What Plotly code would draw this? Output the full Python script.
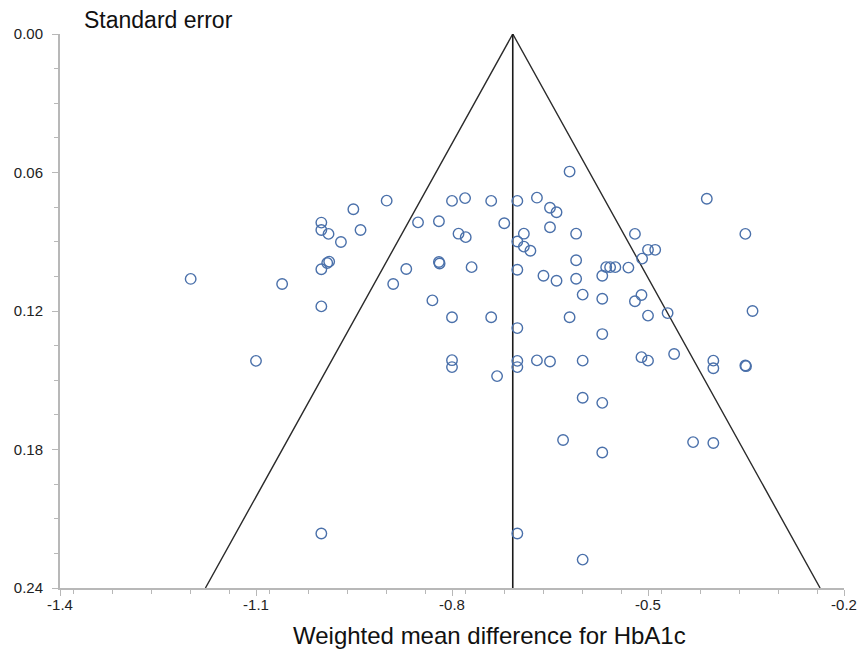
import plotly.graph_objects as go

# Study effect sizes (weighted mean difference for HbA1c) and standard errors
wmd = [
    -1.200, -1.060, -1.100, -1.000, -1.000, -0.989, -0.970, -0.951, -0.900, -0.940,
    -0.991, -0.988, -1.000, -1.000, -0.870, -0.890, -0.852, -0.620, -0.800, -0.780,
    -0.740, -0.700, -0.670, -0.650, -0.640, -0.820, -0.790, -0.779, -0.720, -0.650,
    -0.690, -0.610, -0.520, -0.700, -0.690, -0.680, -0.500, -0.489, -0.509, -0.820,
    -0.819, -0.770, -0.700, -0.610, -0.660, -0.640, -0.610, -0.570, -0.564, -0.558,
    -0.550, -0.530, -0.600, -0.570, -0.510, -0.520, -0.830, -0.800, -0.740, -0.700,
    -0.620, -0.570, -0.500, -0.470, -0.340, -0.410, -0.351, -0.800, -0.800, -0.700,
    -0.700, -0.670, -0.650, -0.600, -0.510, -0.500, -0.460, -0.400, -0.400, -0.351,
    -0.350, -0.731, -0.600, -0.570, -0.630, -0.570, -0.431, -0.400, -1.000, -0.700,
    -0.600,
]
se = [
    0.1061, 0.1083, 0.1416, 0.0817, 0.0849, 0.0866, 0.0901, 0.0759, 0.0722, 0.0849,
    0.0992, 0.0986, 0.1019, 0.1180, 0.1018, 0.1083, 0.0816, 0.0596, 0.0723, 0.0711,
    0.0723, 0.0723, 0.0709, 0.0753, 0.0772, 0.0811, 0.0865, 0.0880, 0.0820, 0.0837,
    0.0865, 0.0865, 0.0866, 0.0899, 0.0921, 0.0939, 0.0935, 0.0935, 0.0973, 0.0988,
    0.0994, 0.1010, 0.1021, 0.0980, 0.1047, 0.1069, 0.1060, 0.1047, 0.1010, 0.1010,
    0.1010, 0.1012, 0.1129, 0.1147, 0.1131, 0.1158, 0.1154, 0.1227, 0.1227, 0.1274,
    0.1227, 0.1300, 0.1220, 0.1209, 0.1200, 0.0714, 0.0866, 0.1413, 0.1443, 0.1416,
    0.1443, 0.1414, 0.1419, 0.1415, 0.1400, 0.1415, 0.1386, 0.1415, 0.1448, 0.1436,
    0.1439, 0.1482, 0.1576, 0.1598, 0.1759, 0.1813, 0.1768, 0.1772, 0.2164, 0.2164,
    0.2277,
]

pooled = -0.707
z = 1.96
se_max = 0.24

x_tickvals = [-1.4, -1.1, -0.8, -0.5, -0.2]
x_ticktext = ["-1.4", "-1.1", "-0.8", "-0.5", "-0.2"]
y_tickvals = [0.00, 0.06, 0.12, 0.18, 0.24]
y_ticktext = ["0.00", "0.06", "0.12", "0.18", "0.24"]

fig = go.Figure()

# funnel (pseudo 95% confidence limits)
fig.add_trace(go.Scatter(
    x=[pooled - z * se_max, pooled, pooled + z * se_max],
    y=[se_max, 0, se_max],
    mode="lines",
    line=dict(color="#2b2b2b", width=1.4),
    hoverinfo="skip", showlegend=False,
))
# pooled estimate line
fig.add_trace(go.Scatter(
    x=[pooled, pooled], y=[0, se_max],
    mode="lines",
    line=dict(color="#1a1a1a", width=1.6),
    hoverinfo="skip", showlegend=False,
))
# studies
fig.add_trace(go.Scatter(
    x=wmd, y=se, mode="markers",
    marker=dict(symbol="circle-open", size=10.5, color="#4a70aa",
                line=dict(width=1.4, color="#4a70aa")),
    showlegend=False,
))

axis_gray = "#b8b8b8"
font_fam = "Liberation Sans, Arial"
fig.update_xaxes(
    range=[-1.4, -0.2], tickvals=x_tickvals, ticktext=x_ticktext,
    automargin=False, ticklabeloverflow="allow",
    showgrid=False, zeroline=False,
    showline=True, linecolor=axis_gray, linewidth=2,
    ticks="outside", ticklen=6, tickwidth=1, tickcolor=axis_gray,
    minor=dict(dtick=0.06, ticks="outside", ticklen=4, tickcolor=axis_gray, showgrid=False),
    tickfont=dict(family=font_fam, size=15, color="#222222"),
    ticklabelstandoff=-4,
)
fig.update_yaxes(
    range=[0.24, 0], tickvals=y_tickvals, ticktext=y_ticktext,
    automargin=False, ticklabeloverflow="allow",
    showgrid=False, zeroline=False,
    showline=True, linecolor=axis_gray, linewidth=2,
    ticks="outside", ticklen=6, tickwidth=1, tickcolor=axis_gray,
    minor=dict(dtick=0.015, ticks="outside", ticklen=4, tickcolor=axis_gray, showgrid=False),
    tickfont=dict(family=font_fam, size=15, color="#222222"),
    ticklabelstandoff=6,
)

W, H = 858, 655
L, R, T, B = 60, 14, 34, 67
pw, ph = W - L - R, H - T - B

fig.add_annotation(
    text="Standard error", xref="paper", yref="paper",
    x=(82 - L) / pw, y=1 + (T - 20) / ph, xanchor="left", yanchor="middle",
    showarrow=False,
    font=dict(family=font_fam, size=23, color="#111111"),
)
fig.add_annotation(
    text="Weighted mean difference for HbA1c", xref="paper", yref="paper",
    x=(489 - L) / pw, y=-(635 - (T + ph)) / ph, xanchor="center", yanchor="middle",
    showarrow=False,
    font=dict(family=font_fam, size=24, color="#111111"),
)

fig.update_layout(
    width=W, height=H,
    margin=dict(l=L, r=R, t=T, b=B),
    plot_bgcolor="white", paper_bgcolor="white",
)

fig.write_html(
    "out.html",
    config={"displayModeBar": False},
    post_script="document.body.style.margin='0';document.body.style.overflow='hidden';",
)
